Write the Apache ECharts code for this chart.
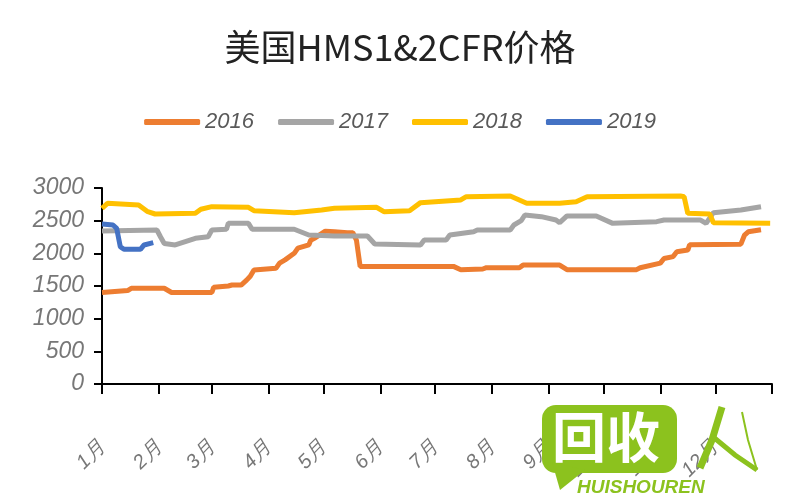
<!DOCTYPE html>
<html>
<head>
<meta charset="utf-8">
<script src="https://cdn.jsdelivr.net/npm/echarts@6/dist/echarts.min.js"></script>
<style>html,body{margin:0;padding:0;background:#fff}#c{width:800px;height:500px}</style>
</head>
<body>
<div id="c"></div>
<script>
// ---- data ----
var titleText = '美国HMS1&2CFR价格';
var seriesNames = ['2016', '2017', '2018', '2019'];
var monthStarts = [0, 31, 60, 91, 121, 152, 182, 213, 244, 274, 305, 335];
var monthLabels = ['1月', '2月', '3月', '4月', '5月', '6月', '7月', '8月', '9月', '10月', '11月', '12月'];
var yTicks = [0, 500, 1000, 1500, 2000, 2500, 3000];

var days2016 = [0, 14, 16, 34, 38, 60, 61, 69, 71, 76, 79, 81, 83, 95, 97, 100, 105, 107, 113, 114, 116, 122, 127, 134, 137, 139, 141, 192, 196, 208, 210, 228, 230, 250, 254, 292, 294, 305, 307, 312, 314, 320, 321, 349, 351, 353, 360];
var vals2016 = [1400, 1430, 1465, 1465, 1400, 1400, 1480, 1500, 1515, 1515, 1590, 1650, 1745, 1770, 1850, 1900, 2000, 2080, 2130, 2200, 2230, 2340, 2330, 2316, 2316, 2200, 1800, 1800, 1750, 1760, 1780, 1780, 1820, 1820, 1750, 1750, 1780, 1850, 1920, 1950, 2025, 2050, 2130, 2140, 2280, 2330, 2360];

var days2017 = [0, 30, 32, 34, 40, 51, 58, 60, 68, 69, 80, 82, 105, 113, 127, 145, 149, 174, 176, 188, 190, 203, 205, 223, 225, 229, 231, 240, 248, 250, 254, 270, 279, 303, 307, 327, 330, 334, 349, 360];
var vals2017 = [2340, 2357, 2250, 2150, 2128, 2230, 2255, 2357, 2370, 2459, 2459, 2368, 2368, 2281, 2265, 2265, 2143, 2128, 2204, 2204, 2281, 2331, 2357, 2357, 2434, 2500, 2587, 2561, 2510, 2469, 2572, 2572, 2459, 2485, 2510, 2510, 2459, 2622, 2663, 2714];

var days2018 = [0, 3, 20, 25, 29, 51, 54, 60, 80, 83, 105, 120, 127, 150, 154, 168, 174, 196, 199, 223, 232, 250, 259, 265, 316, 318, 320, 332, 334, 365];
var vals2018 = [2689, 2766, 2740, 2637, 2602, 2612, 2674, 2714, 2705, 2653, 2622, 2663, 2689, 2705, 2637, 2653, 2776, 2817, 2867, 2878, 2766, 2766, 2791, 2867, 2878, 2867, 2612, 2602, 2469, 2459];

var days2019 = [0, 6, 8, 10, 12, 21, 23, 28];
var vals2019 = [2449, 2434, 2383, 2102, 2061, 2061, 2128, 2163];

var colors = ['#ED7D31', '#A5A5A5', '#FFC000', '#4472C4'];

function pairs(d, v) { return d.map(function (x, i) { return [x, v[i]]; }); }
var allData = [pairs(days2016, vals2016), pairs(days2017, vals2017), pairs(days2018, vals2018), pairs(days2019, vals2019)];

var handFont = 'Liberation Sans';
var chart = echarts.init(document.getElementById('c'), null, { renderer: 'canvas' });
var green = '#8CC21E';
var option = {
  animation: false,
  backgroundColor: '#ffffff',
  color: colors,
  title: {
    text: titleText, left: 'center', top: 24,
    textStyle: { fontFamily: 'Noto Sans CJK SC', fontSize: 36, fontWeight: 'normal', color: '#222' }
  },
  legend: {
    top: 106, left: 'center',
    itemWidth: 56, itemHeight: 6, itemGap: 24, icon: 'roundRect',
    data: seriesNames,
    textStyle: { fontFamily: handFont, fontStyle: 'italic', fontSize: 22, color: '#595959' }
  },
  grid: { left: 102, right: 28, top: 188, bottom: 116 },
  xAxis: {
    type: 'value', min: 0, max: 366,
    axisLine: { lineStyle: { color: '#000', width: 2 } },
    axisTick: { show: true, length: 10, lineStyle: { color: '#000', width: 2 }, customValues: monthStarts.concat([366]) },
    axisLabel: {
      customValues: monthStarts, rotate: 45, margin: 60,
      fontFamily: handFont, fontStyle: 'italic', fontSize: 20, color: '#777',
      formatter: function (v) { var i = monthStarts.indexOf(v); return i >= 0 ? monthLabels[i] : ''; }
    },
    splitLine: { show: false }
  },
  yAxis: {
    type: 'value', min: 0, max: 3000, interval: 500,
    axisLine: { show: true, lineStyle: { color: '#000', width: 2 } },
    axisTick: { show: true, length: 8, lineStyle: { color: '#000', width: 2 } },
    axisLabel: { margin: 18, fontFamily: handFont, fontStyle: 'italic', fontSize: 23, color: '#777',
      formatter: function (v) { return yTicks.indexOf(v) >= 0 ? String(v) : ''; } },
    splitLine: { show: false }
  },
  series: seriesNames.map(function (n, i) {
    return { name: n, type: 'line', data: allData[i], showSymbol: false, symbol: 'none',
      lineStyle: { width: 5, color: colors[i] }, itemStyle: { color: colors[i] } };
  }),
  graphic: [
    { type: 'rect', z: 100, shape: { x: 542, y: 405, width: 135, height: 68, r: 14 }, style: { fill: green } },
    { type: 'polygon', z: 100, shape: { points: [[552, 462], [560, 490], [585, 470]] }, style: { fill: green } },
    { type: 'text', z: 101, x: 552, y: 410, style: { text: '回收', fontFamily: 'Noto Sans CJK SC', fontWeight: 'bold', fontSize: 54, fill: '#fff' } },
    { type: 'text', z: 101, x: 577, y: 478, style: { text: 'HUISHOUREN', fontFamily: 'Liberation Sans', fontWeight: 'bold', fontStyle: 'italic', fontSize: 19, fill: green } },
    { type: 'polyline', z: 101, shape: { points: [[722, 407], [712, 440], [700, 468]] }, style: { stroke: green, lineWidth: 7, fill: null } },
    { type: 'polyline', z: 101, shape: { points: [[712, 436], [735, 455], [757, 470]] }, style: { stroke: green, lineWidth: 5, fill: null } },
    { type: 'polyline', z: 101, shape: { points: [[742, 412], [748, 440], [757, 470]] }, style: { stroke: green, lineWidth: 2, fill: null } }
  ]
};
chart.setOption(option);
</script>
</body>
</html>
